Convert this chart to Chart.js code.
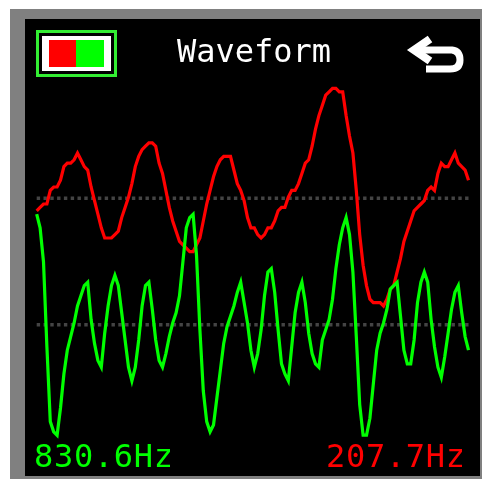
<!DOCTYPE html>
<html>
<head>
<meta charset="utf-8">
<title>Waveform</title>
<script src="https://cdn.jsdelivr.net/npm/chart.js@4"></script>
<style>
  html, body { margin: 0; padding: 0; background: #fff; }
  #frame { position: absolute; left: 10px; top: 9px; width: 472px; height: 470px; background: #808080; }
  #screen { position: absolute; left: 25px; top: 19px; width: 455px; height: 457px; background: #000; }
  #myChart { position: absolute; left: 0; top: 0; }
  .lbl { position: absolute; font-family: "DejaVu Sans Mono", monospace; font-size: 32px; line-height: 32px; white-space: nowrap; }
  .hz { letter-spacing: 0.7px; }
  #legendBox { position: absolute; left: 11px; top: 11px; width: 75px; height: 41px; border: 3px solid #33ee33; }
  #legendInner { position: absolute; left: 3px; top: 3px; width: 69px; height: 35px; background: #fff; }
  #legendRed { position: absolute; left: 7px; top: 4px; width: 27px; height: 27px; background: #f00; }
  #legendGreen { position: absolute; left: 34px; top: 4px; width: 28px; height: 27px; background: #0f0; }
  #back { position: absolute; left: 375px; top: 12px; }
</style>
</head>
<body>
<div id="frame"></div>
<div id="screen">
  <canvas id="myChart" width="455" height="457"></canvas>
  <div id="legendBox"><div id="legendInner"><div id="legendRed"></div><div id="legendGreen"></div></div></div>
  <div class="lbl" style="left:152px;top:16px;color:#fff">Waveform</div>
  <svg id="back" width="70" height="50" viewBox="0 0 70 50">
    <path d="M30 8 L14 19 L30 30" fill="none" stroke="#fff" stroke-width="8"/>
    <path d="M14 19 H52 Q60 20 60 29 Q60 38 50 38 H26" fill="none" stroke="#fff" stroke-width="7"/>
  </svg>
  <div class="lbl hz" style="left:9px;top:421px;color:#0f0">830.6Hz</div>
  <div class="lbl hz" style="left:301px;top:421px;color:#f00">207.7Hz</div>
</div>
<script>
var greenRows = [63,67,77,102,124,127,128,120,110,103,99,95,90,87,84,83,94,101,106,108,98,90,84,81,84,92,100,108,112,108,100,90,84,83,91,100,106,108,104,99,95,92,87,77,67,64,63,75,97,115,124,127,125,117,109,101,96,93,90,86,83,89,95,103,108,104,97,87,80,79,86,97,107,110,112,102,92,86,83,89,98,104,107,108,100,97,94,88,79,72,67,64,69,80,99,119,128,128,123,113,103,98,95,91,85,84,83,93,103,107,107,100,89,83,80,83,94,102,108,111,105,98,91,86,84,92,99,103];
var redRows = [62,61,60,60,56,55,55,53,49,48,48,47,45,47,49,50,55,59,63,67,70,70,70,69,68,64,61,58,54,49,46,44,43,42,42,43,48,51,56,61,65,68,71,72,73,74,74,72,70,65,60,56,52,49,47,46,46,46,50,54,56,59,64,67,67,69,70,69,67,67,65,62,61,61,58,56,56,54,51,48,47,43,38,34,31,28,27,26,26,27,27,34,40,45,56,69,78,84,88,89,89,89,90,88,85,84,80,76,71,68,65,62,61,60,59,56,55,56,51,48,49,49,47,45,48,49,50,53];
var gridRows = [58.3, 95.5];
var gridStart = 0;
var gridEnd = 127;

function toPoints(rows) {
  var pts = [];
  for (var i = 0; i < rows.length; i++) {
    pts.push({ x: i, y: rows[i] });
  }
  return pts;
}

function gridLine(row) {
  return {
    data: [{ x: gridStart, y: row }, { x: gridEnd, y: row }],
    borderColor: '#444444',
    borderWidth: 3.4,
    borderDash: [3.4, 3.4],
    pointRadius: 0,
    order: 3
  };
}

function traceLine(rows, color, order) {
  return {
    data: toPoints(rows),
    borderColor: color,
    borderWidth: 3.2,
    tension: 0,
    borderCapStyle: 'butt',
    borderJoinStyle: 'miter',
    pointRadius: 0,
    order: order
  };
}

var ctx = document.getElementById('myChart').getContext('2d');
new Chart(ctx, {
  type: 'line',
  data: {
    datasets: [
      traceLine(greenRows, '#00ff00', 1),
      traceLine(redRows, '#ff0000', 2),
      gridLine(gridRows[0]),
      gridLine(gridRows[1])
    ]
  },
  options: {
    responsive: false,
    animation: false,
    layout: { padding: 0 },
    plugins: { legend: { display: false }, tooltip: { enabled: false } },
    scales: {
      x: { type: 'linear', display: false, min: -3.44, max: 130.38 },
      y: { type: 'linear', display: false, reverse: true, min: 5.59, max: 140 }
    }
  }
});
</script>
</body>
</html>
